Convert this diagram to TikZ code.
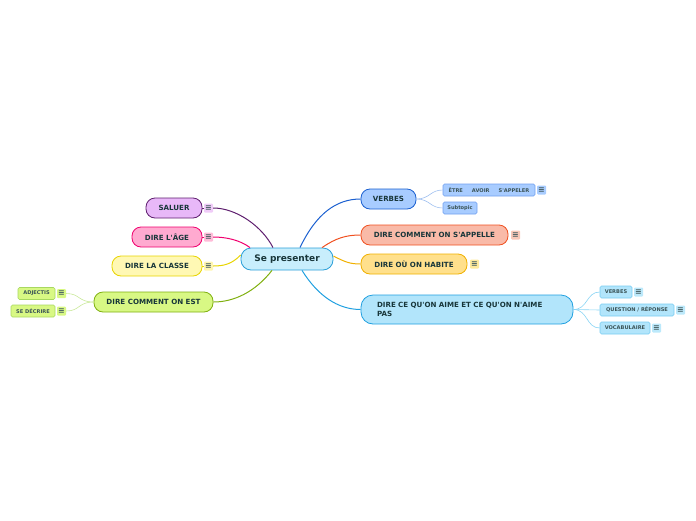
\documentclass[tikz,border=0pt]{standalone}
\usepackage{fontspec}
\setmainfont{DejaVu Sans}
\newfontfamily\dv{DejaVu Sans}
\definecolor{txt}{HTML}{18363A}
\definecolor{cfill}{HTML}{C8EEFC}\definecolor{cdraw}{HTML}{2A9FD8}
\definecolor{pfill}{HTML}{E8B8F8}\definecolor{pdraw}{HTML}{5E1E6E}\definecolor{picon}{HTML}{F0CCF8}
\definecolor{kfill}{HTML}{FFAAD0}\definecolor{kdraw}{HTML}{F0006E}\definecolor{kicon}{HTML}{FFBCD8}
\definecolor{yfill}{HTML}{FFF8B4}\definecolor{ydraw}{HTML}{E8D400}\definecolor{yicon}{HTML}{FFF6B0}
\definecolor{gfill}{HTML}{D8F884}\definecolor{gdraw}{HTML}{80B010}\definecolor{gline}{HTML}{C8E898}\definecolor{gsub}{HTML}{A8D860}
\definecolor{bfill}{HTML}{A8CCFF}\definecolor{bdraw}{HTML}{1A5FD0}\definecolor{bsub}{HTML}{70A0F0}\definecolor{bline}{HTML}{A0C0F0}
\definecolor{ofill}{HTML}{F9BAA8}\definecolor{odraw}{HTML}{F05020}\definecolor{oicon}{HTML}{F9C8B8}
\definecolor{hfill}{HTML}{FFE08C}\definecolor{hdraw}{HTML}{F0B000}\definecolor{hicon}{HTML}{FFEA9C}
\definecolor{afill}{HTML}{B2E5FB}\definecolor{adraw}{HTML}{20A0E0}\definecolor{asub}{HTML}{78CCF2}\definecolor{aline}{HTML}{88D4F4}\definecolor{aicon}{HTML}{BCE9FB}
\tikzset{
  mainnode/.style={draw, rounded corners=9pt, line width=0.8pt, minimum height=20pt, inner sep=0pt,
    font=\dv\bfseries\fontsize{7.1}{8.4}\selectfont, text=txt},
  subnode/.style={draw, rounded corners=1.5pt, line width=0.6pt, minimum height=12pt, inner sep=0pt,
    font=\dv\bfseries\fontsize{5.1}{6}\selectfont, text=txt!85},
  iconbox/.style={rounded corners=1pt, minimum width=9pt, minimum height=9pt, inner sep=0pt,
    font=\dv\bfseries\fontsize{8}{8}\selectfont, text=txt!80},
  link/.style={line width=1pt},
  sublink/.style={line width=0.6pt}
}
\begin{document}
\begin{tikzpicture}[x=1pt,y=-1pt]
\useasboundingbox (0,0) rectangle (696,520);
% center
\node[mainnode, fill=cfill, draw=cdraw, minimum width=92pt, minimum height=22pt, rounded corners=10pt,
  font=\dv\bfseries\fontsize{9}{10}\selectfont] (sp) at (287,259) {Se presenter};
% left main nodes
\node[mainnode, fill=pfill, draw=pdraw, minimum width=56pt] (saluer) at (174,208) {SALUER};
\node[iconbox, fill=picon] (isaluer) at (208.5,208) {≡};
\node[mainnode, fill=kfill, draw=kdraw, minimum width=70pt] (age) at (167,237) {DIRE L'ÂGE};
\node[iconbox, fill=kicon] (iage) at (208.5,237) {≡};
\node[mainnode, fill=yfill, draw=ydraw, minimum width=90pt] (classe) at (157,266) {DIRE LA CLASSE};
\node[iconbox, fill=yicon] (iclasse) at (208.5,266) {≡};
\node[mainnode, fill=gfill, draw=gdraw, minimum width=119pt] (est) at (153.5,302) {DIRE COMMENT ON EST};
% left subnodes
\node[subnode, fill=gfill, draw=gsub, minimum width=37pt] (adj) at (36.5,293.5) {ADJECTIS};
\node[iconbox, fill=gfill] (iadj) at (61.5,293.5) {≡};
\node[subnode, fill=gfill, draw=gsub, minimum width=44pt] (decr) at (33,311) {SE DÉCRIRE};
\node[iconbox, fill=gfill] (idecr) at (61.5,311) {≡};
% right main nodes
\node[mainnode, fill=bfill, draw=bdraw, minimum width=55pt] (verbes) at (388.5,199) {VERBES};
\node[subnode, fill=bfill, draw=bsub, minimum width=92pt] (etre) at (489,190) {ÊTRE\hspace{9pt}AVOIR\hspace{9pt}S'APPELER};
\node[iconbox, fill=bfill] (ietre) at (541.5,190) {≡};
\node[subnode, fill=bfill, draw=bsub, minimum width=34pt] (subt) at (460,208) {Subtopic};
\node[mainnode, fill=ofill, draw=odraw, minimum width=147pt] (appelle) at (434.5,235) {DIRE COMMENT ON S'APPELLE};
\node[iconbox, fill=oicon] (iappelle) at (515.5,235) {≡};
\node[mainnode, fill=hfill, draw=hdraw, minimum width=106pt] (habite) at (414,264) {DIRE OÙ ON HABITE};
\node[iconbox, fill=hicon] (ihabite) at (474.5,264) {≡};
\node[mainnode, fill=afill, draw=adraw, minimum width=212pt, minimum height=29pt, rounded corners=12pt,
  align=left, text width=180pt] (aime) at (467,309.5) {DIRE CE QU'ON AIME ET CE QU'ON N'AIME\\PAS};
% right subnodes
\node[subnode, fill=afill, draw=asub, minimum width=32pt] (averb) at (616,292) {VERBES};
\node[iconbox, fill=aicon] (iaverb) at (638.5,292) {≡};
\node[subnode, fill=afill, draw=asub, minimum width=74pt] (quest) at (637,310) {QUESTION / RÉPONSE};
\node[iconbox, fill=aicon] (iquest) at (680.5,310) {≡};
\node[subnode, fill=afill, draw=asub, minimum width=50pt] (vocab) at (625,328) {VOCABULAIRE};
\node[iconbox, fill=aicon] (ivocab) at (656.5,328) {≡};
% stubs between nodes and icons
\draw[pdraw, line width=0.6pt] (saluer.east) -- (isaluer.west);
\draw[kdraw, line width=0.6pt] (age.east) -- (iage.west);
\draw[ydraw, line width=0.6pt] (classe.east) -- (iclasse.west);
% connectors from center
\draw[link, pdraw] ([xshift=-14pt]sp.north) .. controls (262,226) and (236,208) .. (isaluer.east);
\draw[link, kdraw] ([xshift=-37pt]sp.north) .. controls (240,240) and (226,237) .. (iage.east);
\draw[link, ydraw] ([yshift=4pt]sp.west) .. controls (232,264) and (224,266) .. (iclasse.east);
\draw[link, gdraw] ([xshift=-15pt]sp.south) .. controls (255,292) and (234,302) .. (est.east);
\draw[link, bdraw] ([xshift=13pt]sp.north) .. controls (316,214) and (336,199) .. (verbes.west);
\draw[link, odraw] ([xshift=35pt]sp.north) .. controls (336,238) and (346,235) .. (appelle.west);
\draw[link, hdraw] ([yshift=3pt]sp.east) .. controls (345,262) and (350,264) .. (habite.west);
\draw[link, adraw] ([xshift=15pt]sp.south) .. controls (318,296) and (338,309.5) .. (aime.west);
% sub connectors
\draw[sublink, bline] (verbes.east) .. controls (430,199) and (430,190) .. (etre.west);
\draw[sublink, bline] (verbes.east) .. controls (430,199) and (430,208) .. (subt.west);
\draw[sublink, gline] (est.west) .. controls (78,302) and (80,293.5) .. (iadj.east);
\draw[sublink, gline] (est.west) .. controls (78,302) and (80,311) .. (idecr.east);
\draw[sublink, aline] (aime.east) .. controls (588,309.5) and (586,292) .. (averb.west);
\draw[sublink, aline] (aime.east) -- (quest.west);
\draw[sublink, aline] (aime.east) .. controls (588,309.5) and (586,328) .. (vocab.west);
\end{tikzpicture}
\end{document}
